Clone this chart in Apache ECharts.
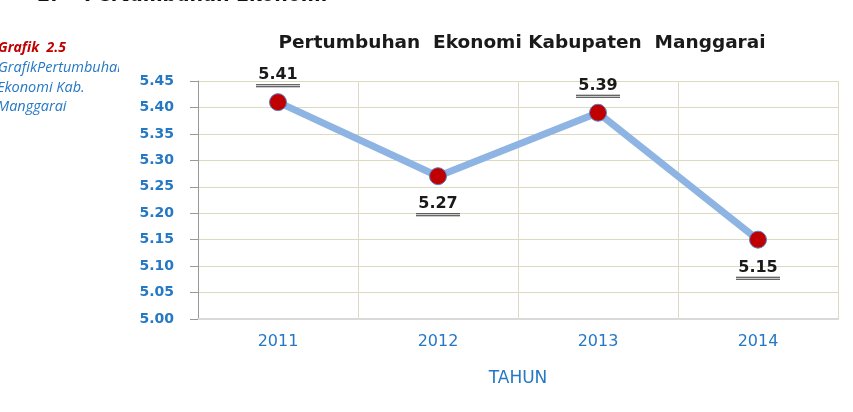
<!DOCTYPE html>
<html><head><meta charset="utf-8">
<script src="https://cdn.jsdelivr.net/npm/echarts@6/dist/echarts.min.js"></script>
<style>html,body{margin:0;padding:0;background:#fff}#c{width:853px;height:412px}</style>
</head><body><div id="c"></div>
<script>
const categories = ['2011', '2012', '2013', '2014'];
const growth = [5.41, 5.27, 5.39, 5.15];
const labelPos = ['top', 'bottom', 'top', 'bottom'];
const yTicks = [5.00, 5.05, 5.10, 5.15, 5.20, 5.25, 5.30, 5.35, 5.40, 5.45];

const chart = echarts.init(document.getElementById('c'));
const blue = '#2478C4';
chart.setOption({
  animation: false,
  backgroundColor: '#fff',
  title: {
    text: 'Pertumbuhan  Ekonomi Kabupaten  Manggarai',
    left: 517, top: 29, textAlign: 'center',
    textStyle: { fontFamily: 'DejaVu Sans', fontWeight: 'bold', fontSize: 18.5, color: '#1a1a1a' }
  },
  graphic: [
    { type: 'text', left: 37, top: -13, style: { text: '2.    Pertumbuhan Ekonomi', font: 'bold 19px "DejaVu Sans"', fill: '#111' } },
    { type: 'text', left: -2, top: 41, style: { text: 'Grafik  2.5', font: 'italic bold 14px "Open Sans"', fill: '#C00000' } },
    { type: 'text', left: -2, top: 60, style: { text: 'GrafikPertumbuhan', font: 'italic 14.5px "Open Sans"', fill: blue } },
    { type: 'text', left: -3, top: 80, style: { text: 'Ekonomi Kab.', font: 'italic 14.5px "Open Sans"', fill: blue } },
    { type: 'text', left: -3, top: 99, style: { text: 'Manggarai', font: 'italic 14.5px "Open Sans"', fill: blue } },
    { type: 'rect', left: 119, top: 55, shape: { width: 15, height: 24 }, style: { fill: '#fff' } }
  ],
  grid: { left: 198, right: 15, top: 81, bottom: 93 },
  xAxis: {
    type: 'category', data: categories, boundaryGap: true,
    name: 'TAHUN', nameLocation: 'middle', nameGap: 51,
    nameTextStyle: { color: blue, fontFamily: 'DejaVu Sans', fontSize: 17 },
    axisLine: { lineStyle: { color: '#D9D9D9', width: 2 } },
    axisTick: { show: false },
    axisLabel: { color: blue, fontFamily: 'DejaVu Sans', fontSize: 16, margin: 15 },
    splitLine: { show: true, interval: 0, lineStyle: { color: '#DCDBC2', width: 1 } }
  },
  yAxis: {
    type: 'value', min: yTicks[0], max: yTicks[yTicks.length - 1], interval: 0.05,
    axisLine: { show: true, lineStyle: { color: '#999', width: 1 } },
    axisTick: { show: true, length: 8, lineStyle: { color: '#999' } },
    axisLabel: { color: blue, fontFamily: 'DejaVu Sans', fontWeight: 'bold', fontSize: 14, margin: 24, formatter: v => v.toFixed(2) },
    splitLine: { show: true, lineStyle: { color: '#DCDBC2', width: 1 } }
  },
  series: [{
    type: 'line',
    data: growth.map((v, i) => ({
      value: v,
      label: { position: labelPos[i], distance: labelPos[i] === 'top' ? 6 : 10 }
    })),
    lineStyle: { color: '#8DB4E2', width: 7 },
    symbol: 'circle', symbolSize: 17,
    itemStyle: { color: '#C00000', borderColor: '#5B7FC0', borderWidth: 1 },
    label: {
      show: true,
      formatter: p => '{v|' + p.value.toFixed(2) + '}\n{u|}\n{g|}\n{u|}',
      rich: {
        v: { fontFamily: 'DejaVu Sans', fontWeight: 'bold', fontSize: 16, color: '#1a1a1a', lineHeight: 18 },
        u: { width: 44, height: 1, lineHeight: 1, backgroundColor: '#333' },
        g: { width: 44, height: 1, lineHeight: 1, backgroundColor: 'transparent' }
      }
    }
  }]
});
</script></body></html>
